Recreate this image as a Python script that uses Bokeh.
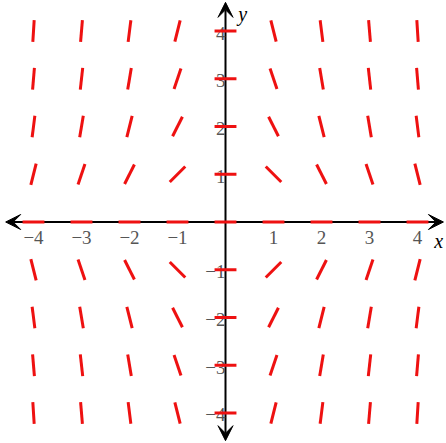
import numpy as np
from bokeh.plotting import figure
from bokeh.models import Range1d, Arrow, VeeHead, ColumnDataSource
from bokeh.core.properties import value
from bokeh.embed import file_html
from bokeh.resources import INLINE

# Slope field for dy/dx = -x*y on the integer lattice
grid_x = [-4, -3, -2, -1, 0, 1, 2, 3, 4]
grid_y = [-4, -3, -2, -1, 0, 1, 2, 3, 4]
x_ticks = [-4, -3, -2, -1, 1, 2, 3, 4]
x_tick_labels = ["\u22124", "\u22123", "\u22122", "\u22121", "1", "2", "3", "4"]
y_ticks = [-4, -3, -2, -1, 1, 2, 3, 4]
y_tick_labels = ["\u22124", "\u22123", "\u22122", "\u22121", "1", "2", "3", "4"]


def slope(x, y):
    return -x * y


half = 0.228
x0, y0, x1, y1 = [], [], [], []
for gx in grid_x:
    for gy in grid_y:
        m = slope(gx, gy)
        d = np.hypot(1.0, m)
        dx, dy = half / d, half * m / d
        x0.append(gx - dx); y0.append(gy - dy)
        x1.append(gx + dx); y1.append(gy + dy)

p = figure(width=446, height=443,
           x_range=Range1d(-4.6875, 4.604), y_range=Range1d(-4.639, 4.639),
           output_backend="svg", toolbar_location=None, min_border=0,
           x_axis_location=None, y_axis_location=None,
           outline_line_color=None, background_fill_color="white")
p.grid.visible = False

# Coordinate axes with arrowheads at both ends
for xs, ys, xe, ye in [(-4.58, 0, 4.54, 0), (0, -4.58, 0, 4.6)]:
    arr = Arrow(start=VeeHead(size=15, fill_color="black", line_color="black", line_width=1),
                end=VeeHead(size=15, fill_color="black", line_color="black", line_width=1),
                x_start=xs, y_start=ys, x_end=xe, y_end=ye,
                line_color="black", line_width=2, level="underlay")
    p.add_layout(arr)

font = value("'Liberation Serif', 'Times New Roman', serif")
p.text(x=x_ticks, y=[0] * len(x_ticks), text=x_tick_labels, text_font=font,
       text_font_size="19px", text_color="#555555", text_align="center",
       text_baseline="middle", y_offset=15)
p.text(x=[0] * len(y_ticks), y=y_ticks, text=y_tick_labels, text_font=font,
       text_font_size="19px", text_color="#555555", text_align="right",
       text_baseline="middle", x_offset=0, y_offset=2)
p.text(x=[4.44], y=[-0.39], text=["x"], text_font=font, text_font_style="italic",
       text_font_size="20px", text_color="black", text_align="center", text_baseline="middle")
p.text(x=[0.36], y=[4.36], text=["y"], text_font=font, text_font_style="italic",
       text_font_size="20px", text_color="black", text_align="center", text_baseline="middle")

src = ColumnDataSource(dict(x0=x0, y0=y0, x1=x1, y1=y1))
p.segment(x0="x0", y0="y0", x1="x1", y1="y1", source=src, line_color="#ee1111", line_width=3)

open("out.html", "w").write(file_html(p, INLINE))
